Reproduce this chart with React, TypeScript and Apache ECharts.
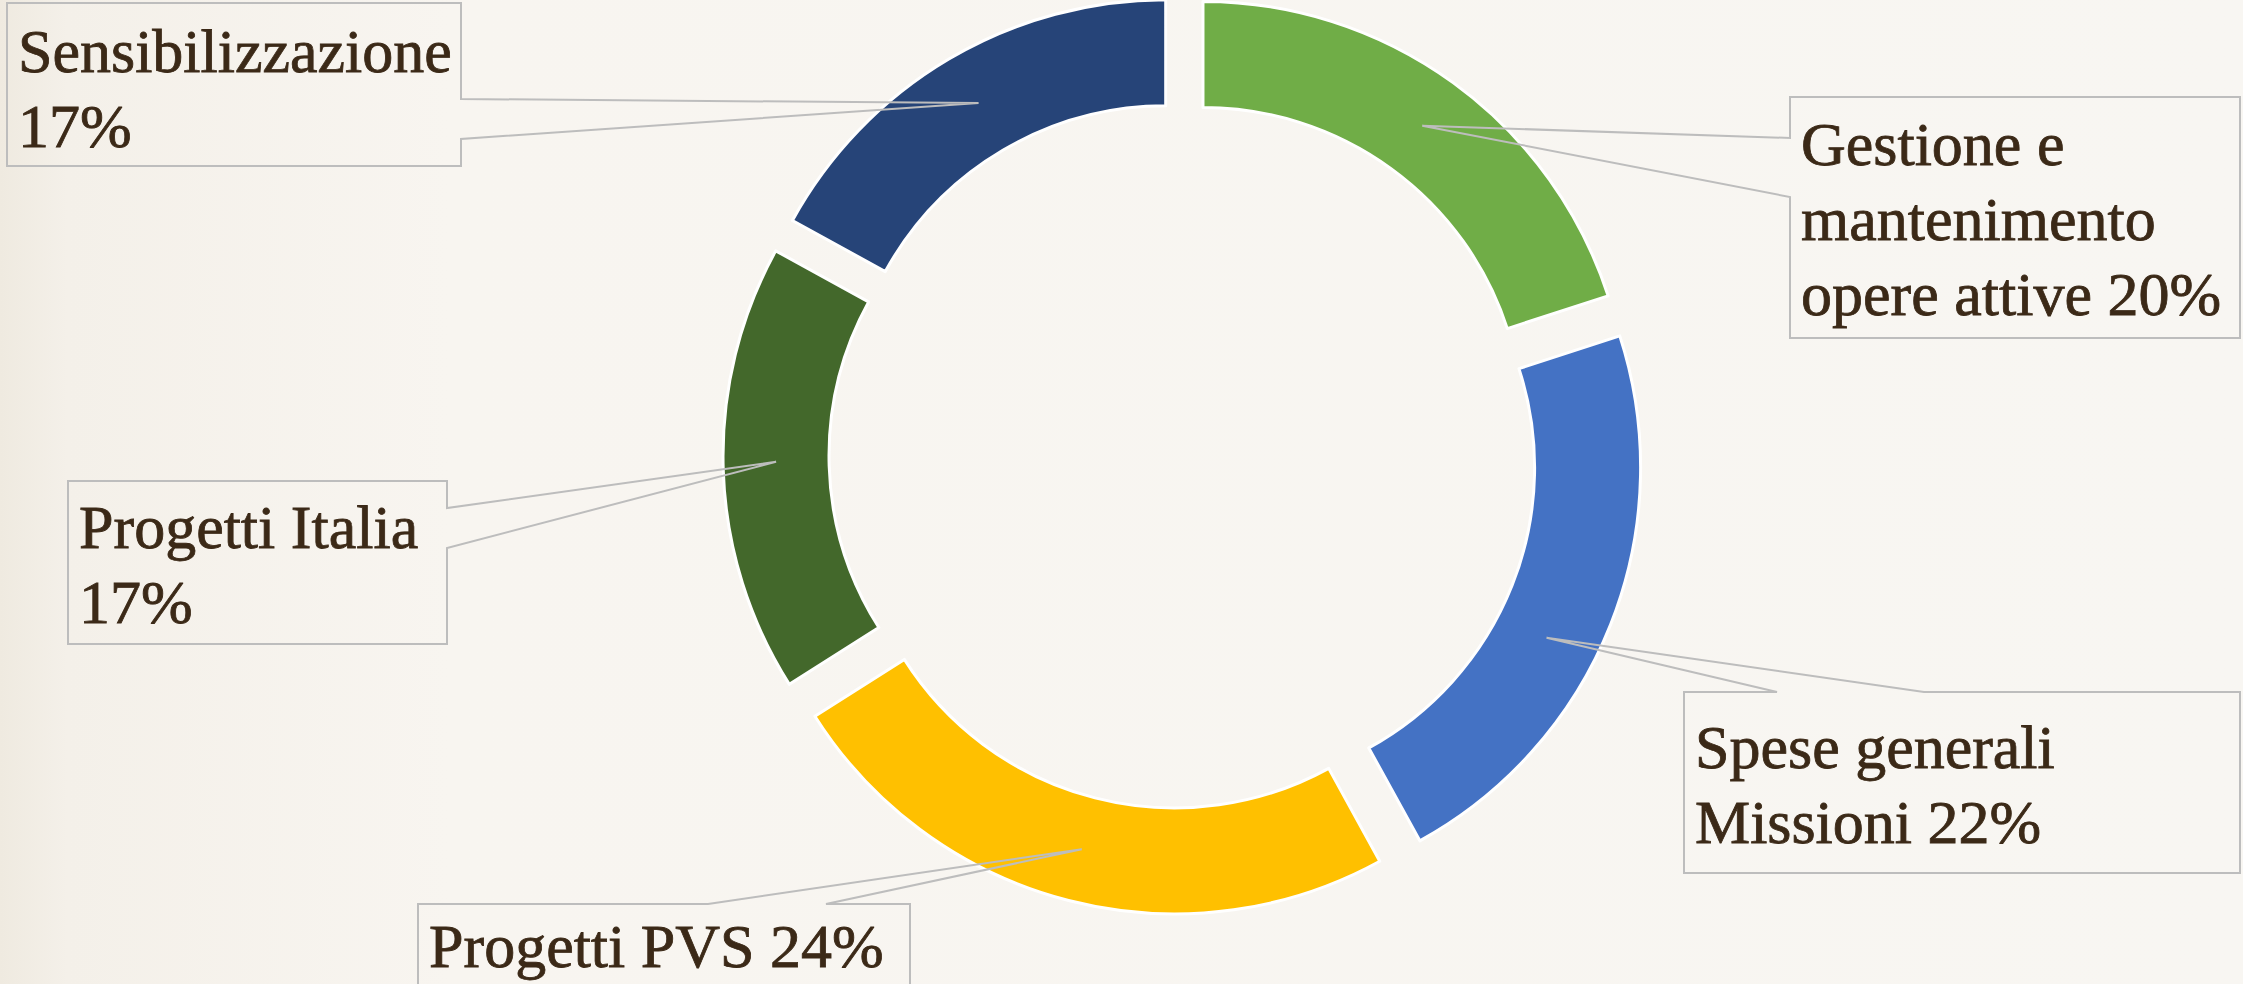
import React, { useEffect, useRef } from 'react';
import * as echarts from 'echarts';

// ---- data ----
const categories: string[] = [
  'Gestione e mantenimento opere attive',
  'Spese generali Missioni',
  'Progetti PVS',
  'Progetti Italia',
  'Sensibilizzazione',
];
const values: number[] = [20, 22, 24, 17, 17];
const colors: string[] = ['#70AD47', '#4472C4', '#FFC000', '#43682B', '#264478'];

// ---- layout (pie geometry + callout annotation boxes) ----
const CX = 1183;
const CY = 455;
const R_IN = 320;
const R_OUT = 426;
const OFFSET = 34;

type Callout = {
  box: [number, number, number, number]; // left, top, right, bottom
  side: 'left' | 'right' | 'top';
  attach: [number, number];
  t: number; // position of leader tip along the slice's angle (0..1)
  textTop: number;
  textWidth: number;
};
const callouts: Callout[] = [
  { box: [1790, 97, 2240, 338], side: 'left', attach: [138, 197], t: 0.5, textTop: 106, textWidth: 440 },
  { box: [1684, 692, 2240, 873], side: 'top', attach: [1777, 1924], t: 0.57, textTop: 709, textWidth: 520 },
  { box: [418, 904, 910, 1000], side: 'top', attach: [708, 826], t: 0.5, textTop: 908, textWidth: 480 },
  { box: [68, 481, 447, 644], side: 'right', attach: [508, 548], t: 0.515, textTop: 489, textWidth: 370 },
  { box: [7, 3, 461, 166], side: 'right', attach: [99, 139], t: 0.508, textTop: 13, textWidth: 462 },
];

const TEXT_COLOR = '#3B2917';
const LINE_COLOR = '#BDBDBD';
const FONT_SIZE = 62;
const LINE_HEIGHT = 75;

export default function App() {
  const ref = useRef<HTMLDivElement>(null);

  useEffect(() => {
    if (!ref.current) return;
    const chart = echarts.init(ref.current, null, { renderer: 'svg' });
    const total = values.reduce((a, b) => a + b, 0);

    chart.setOption({
      animation: false,
      backgroundColor: {
        type: 'linear',
        x: 0, y: 0, x2: 1, y2: 0,
        colorStops: [
          { offset: 0, color: '#EFEAE0' },
          { offset: 0.03, color: '#F4F0E9' },
          { offset: 0.2, color: '#F8F5F0' },
          { offset: 1, color: '#F8F6F2' },
        ],
      },
      series: [
        {
          type: 'pie',
          center: [CX, CY],
          radius: [R_IN, R_OUT],
          startAngle: 90,
          clockwise: true,
          selectedMode: 'multiple',
          selectedOffset: OFFSET,
          avoidLabelOverlap: false,
          label: { show: false },
          labelLine: { show: false },
          emphasis: { disabled: true },
          itemStyle: { borderColor: '#FFFFFF', borderWidth: 3 },
          data: categories.map((name, i) => ({
            name,
            value: values[i],
            selected: true,
            itemStyle: { color: colors[i] },
          })),
        },
      ],
    });

    // slice layouts from the library
    let layouts: any[] | null = null;
    try {
      const data = (chart as any).getModel().getSeriesByIndex(0).getData();
      layouts = values.map((_, i) => data.getItemLayout(i));
      if (!layouts.every((l) => l && isFinite(l.startAngle))) layouts = null;
    } catch (e) {
      layouts = null;
    }
    if (!layouts) {
      let cur = -Math.PI / 2;
      layouts = values.map((v) => {
        const ang = (v / total) * Math.PI * 2;
        const l = { startAngle: cur, endAngle: cur + ang, cx: CX, cy: CY, r0: R_IN, r: R_OUT };
        cur += ang;
        return l;
      });
    }

    const graphics: any[] = [];
    callouts.forEach((c, i) => {
      const l = layouts![i];
      const mid = (l.startAngle + l.endAngle) / 2;
      const a = l.startAngle + c.t * (l.endAngle - l.startAngle);
      const rm = (l.r + l.r0) / 2;
      const ax = l.cx + OFFSET * Math.cos(mid) + rm * Math.cos(a);
      const ay = l.cy + OFFSET * Math.sin(mid) + rm * Math.sin(a);
      const [L, T, R, B] = c.box;
      let pts: number[][];
      if (c.side === 'left') {
        pts = [[L, T], [R, T], [R, B], [L, B], [L, c.attach[1]], [ax, ay], [L, c.attach[0]]];
      } else if (c.side === 'right') {
        pts = [[L, T], [R, T], [R, c.attach[0]], [ax, ay], [R, c.attach[1]], [R, B], [L, B]];
      } else {
        pts = [[L, T], [c.attach[0], T], [ax, ay], [c.attach[1], T], [R, T], [R, B], [L, B]];
      }
      graphics.push({
        type: 'polygon',
        z: 10,
        silent: true,
        shape: { points: pts },
        style: { fill: 'none', stroke: LINE_COLOR, lineWidth: 2 },
      });
      const pct = Math.round((values[i] / total) * 100);
      graphics.push({
        type: 'text',
        z: 11,
        silent: true,
        x: L + 11,
        y: c.textTop,
        style: {
          text: `${categories[i]} ${pct}%`,
          fill: TEXT_COLOR,
          stroke: TEXT_COLOR,
          lineWidth: 0.8,
          fontFamily: '"Liberation Serif", "Times New Roman", serif',
          fontSize: FONT_SIZE,
          lineHeight: LINE_HEIGHT,
          width: c.textWidth,
          overflow: 'break',
          align: 'left',
          verticalAlign: 'top',
        },
      });
    });

    chart.setOption({ graphic: graphics });

    return () => {
      chart.dispose();
    };
  }, []);

  return (
    <div
      ref={ref}
      style={{ position: 'fixed', left: 0, top: 0, width: 2243, height: 984 }}
    />
  );
}
